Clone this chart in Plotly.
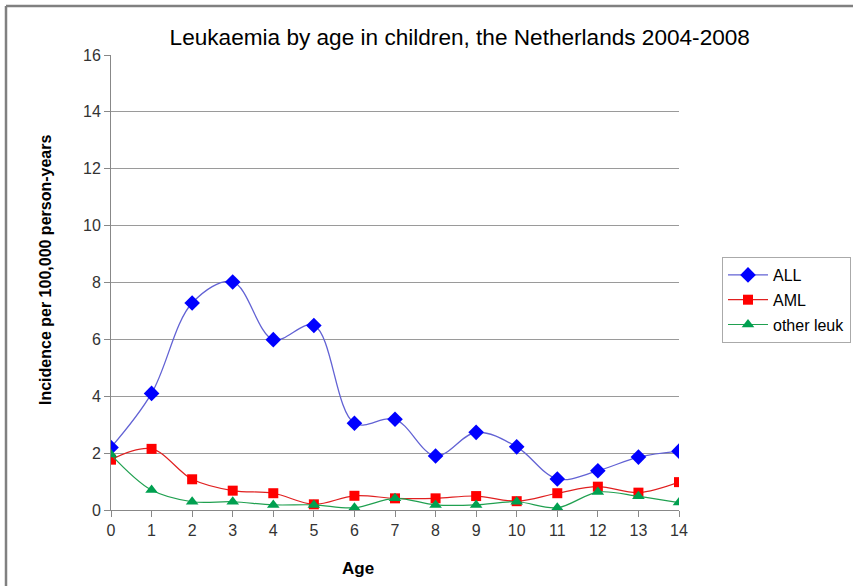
import plotly.graph_objects as go

ages = list(range(15))
all_vals = [2.2, 4.1, 7.28, 8.02, 5.99, 6.49, 3.05, 3.19, 1.9, 2.73, 2.22, 1.09, 1.38, 1.86, 2.07]
aml_vals = [1.77, 2.15, 1.08, 0.68, 0.59, 0.2, 0.5, 0.41, 0.41, 0.49, 0.31, 0.59, 0.82, 0.61, 0.98]
other_vals = [1.95, 0.7, 0.29, 0.29, 0.18, 0.18, 0.08, 0.41, 0.18, 0.18, 0.29, 0.08, 0.63, 0.48, 0.26]
series_names = ["ALL", "AML", "other leuk"]
y_ticks = [0, 2, 4, 6, 8, 10, 12, 14, 16]

FONT = "Liberation Sans, Arial, sans-serif"

fig = go.Figure()
fig.add_trace(go.Scatter(
    x=ages, y=all_vals, name=series_names[0], mode="lines+markers", legendgroup="a",
    line=dict(color="#6262d4", width=1.3, shape="spline", smoothing=1.0),
    marker=dict(symbol="diamond", size=12, color="#0000ff"),
))
fig.add_trace(go.Scatter(
    x=ages, y=aml_vals, name=series_names[1], mode="lines+markers", legendgroup="b",
    line=dict(color="#e02020", width=1.2, shape="spline", smoothing=1.0),
    marker=dict(symbol="square", size=10, color="#ff0000"),
))
fig.add_trace(go.Scatter(
    x=ages, y=other_vals, name=series_names[2], mode="lines+markers", legendgroup="c",
    line=dict(color="#20a050", width=1.2, shape="spline", smoothing=1.0),
    marker=dict(symbol="triangle-up", size=11, color="#00a050"),
))

fig.update_layout(
    width=853, height=586,
    margin=dict(l=111, r=174, t=55, b=76, autoexpand=False),
    paper_bgcolor="white", plot_bgcolor="white",
    font=dict(family=FONT, color="#222222"),
    title=dict(text="Leukaemia by age in children, the Netherlands 2004-2008",
               x=0.539, xanchor="center", y=(586 - 37) / 586, yanchor="middle",
               font=dict(size=22.6, color="black", family=FONT)),
    xaxis=dict(range=[0, 14], tickmode="array", tickvals=ages,
               ticks="outside", ticklen=6, tickcolor="#888888",
               showline=True, linecolor="#888888", linewidth=1,
               showgrid=False, zeroline=False, automargin=False,
               tickfont=dict(size=16, color="#333333")),
    yaxis=dict(range=[0, 16], tickmode="array", tickvals=y_ticks,
               ticks="outside", ticklen=6, tickcolor="#888888",
               showline=True, linecolor="#888888", linewidth=1,
               showgrid=True, gridcolor="#9a9a9a", gridwidth=1,
               zeroline=False, automargin=False,
               tickfont=dict(size=16, color="#333333")),
    legend=dict(x=(722 - 111) / 568, y=(510 - 257) / 455, xanchor="left", yanchor="top",
                bordercolor="#aaaaaa", borderwidth=1,
                font=dict(size=16, color="black", family=FONT),
                tracegroupgap=1, itemwidth=40),
    showlegend=True,
)

fig.add_annotation(text="<b>Incidence per 100,000 person-years</b>",
                   xref="paper", yref="paper", x=(45 - 111) / 568, y=(510 - 270) / 455,
                   xanchor="center", yanchor="middle",
                   textangle=-90, showarrow=False,
                   font=dict(size=16, color="black", family=FONT))
fig.add_annotation(text="<b>Age</b>", xref="paper", yref="paper",
                   x=(358 - 111) / 568, y=(510 - 568) / 455,
                   xanchor="center", yanchor="middle",
                   showarrow=False, font=dict(size=17, color="black", family=FONT))

# outer chart-area frame (left and top edges visible)
fig.add_shape(type="line", xref="paper", yref="paper",
              x0=(6 - 111) / 568, x1=(6 - 111) / 568,
              y0=(510 - 590) / 455, y1=(510 - 6) / 455,
              line=dict(color="#808080", width=2.5))
fig.add_shape(type="line", xref="paper", yref="paper",
              x0=(6 - 111) / 568, x1=(860 - 111) / 568,
              y0=(510 - 6) / 455, y1=(510 - 6) / 455,
              line=dict(color="#808080", width=2.5))

fig.write_html("out.html", config={"displayModeBar": False},
               post_script="document.body.style.margin='0px';")
